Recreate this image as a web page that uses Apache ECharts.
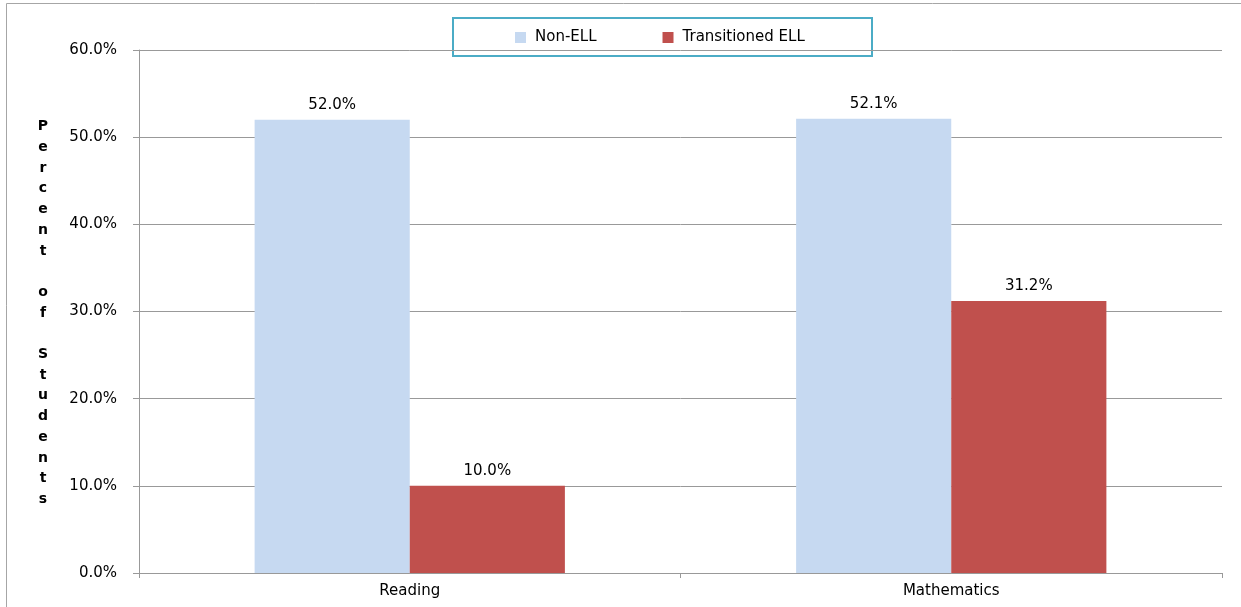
<!DOCTYPE html>
<html>
<head>
<meta charset="utf-8">
<script src="https://cdn.jsdelivr.net/npm/echarts@6/dist/echarts.min.js"></script>
<style>html,body{margin:0;padding:0;background:#fff}#c{width:1241px;height:607px}</style>
</head>
<body>
<div id="c"></div>
<script>
var categories = ['Reading', 'Mathematics'];
var nonEll = [52.0, 52.1];
var transitionedEll = [10.0, 31.2];
var seriesNames = ['Non-ELL', 'Transitioned ELL'];
var yTitleLetters = ['P','e','r','c','e','n','t',' ','o','f',' ','S','t','u','d','e','n','t','s'];

var FONT = 'DejaVu Sans';
var chart = echarts.init(document.getElementById('c'), null, {renderer: 'canvas'});
var labelFmt = function (p) { return p.value.toFixed(1) + '%'; };
chart.setOption({
  animation: false,
  backgroundColor: '#fff',
  textStyle: {fontFamily: FONT},
  grid: {left: 139, right: 19, top: 50, bottom: 34},
  legend: {
    left: 510, top: 25,
    itemWidth: 11, itemHeight: 11, itemGap: 66,
    icon: 'rect',
    textStyle: {fontFamily: FONT, fontSize: 15, color: '#000', padding: [0, 0, 0, 4]},
    data: seriesNames
  },
  xAxis: {
    type: 'category',
    data: categories,
    boundaryGap: true,
    axisLine: {lineStyle: {color: '#999', width: 1}},
    axisTick: {show: true, length: 5, lineStyle: {color: '#999'}},
    axisLabel: {fontFamily: FONT, fontSize: 15, color: '#000', margin: 11}
  },
  yAxis: {
    type: 'value',
    min: 0, max: 60, interval: 10,
    axisLine: {show: true, lineStyle: {color: '#999', width: 1}},
    axisTick: {show: true, length: 6, lineStyle: {color: '#999'}},
    axisLabel: {fontFamily: FONT, fontSize: 15, color: '#000', margin: 22,
      formatter: function (v) { return v.toFixed(1) + '%'; }},
    splitLine: {lineStyle: {color: '#999', width: 1}}
  },
  series: [
    {
      name: seriesNames[0], type: 'bar', data: nonEll,
      barGap: '0%', barCategoryGap: '42.7%',
      itemStyle: {color: '#C6D9F1'},
      label: {show: true, position: 'top', distance: 7, fontFamily: FONT, fontSize: 15, color: '#000', formatter: labelFmt}
    },
    {
      name: seriesNames[1], type: 'bar', data: transitionedEll,
      barGap: '0%', barCategoryGap: '42.7%',
      itemStyle: {color: '#C0504D'},
      label: {show: true, position: 'top', distance: 7, fontFamily: FONT, fontSize: 15, color: '#000', formatter: labelFmt}
    }
  ],
  graphic: [
    {type: 'polyline', silent: true, z: 100,
     shape: {points: [[6.5, 607], [6.5, 3.5], [1241, 3.5]]},
     style: {stroke: '#a6a6a6', lineWidth: 1, fill: null}},
    {type: 'rect', z: 0, silent: true,
     shape: {x: 453, y: 18, width: 419, height: 38},
     style: {fill: '#fff', stroke: '#4BACC6', lineWidth: 2}},
    {type: 'text', silent: true, z: 100,
     x: 43, y: 313,
     style: {text: yTitleLetters.join('\n'), font: 'bold 14px "DejaVu Sans"', fill: '#000',
       align: 'center', verticalAlign: 'middle', lineHeight: 20.7}}
  ]
});
</script>
</body>
</html>
